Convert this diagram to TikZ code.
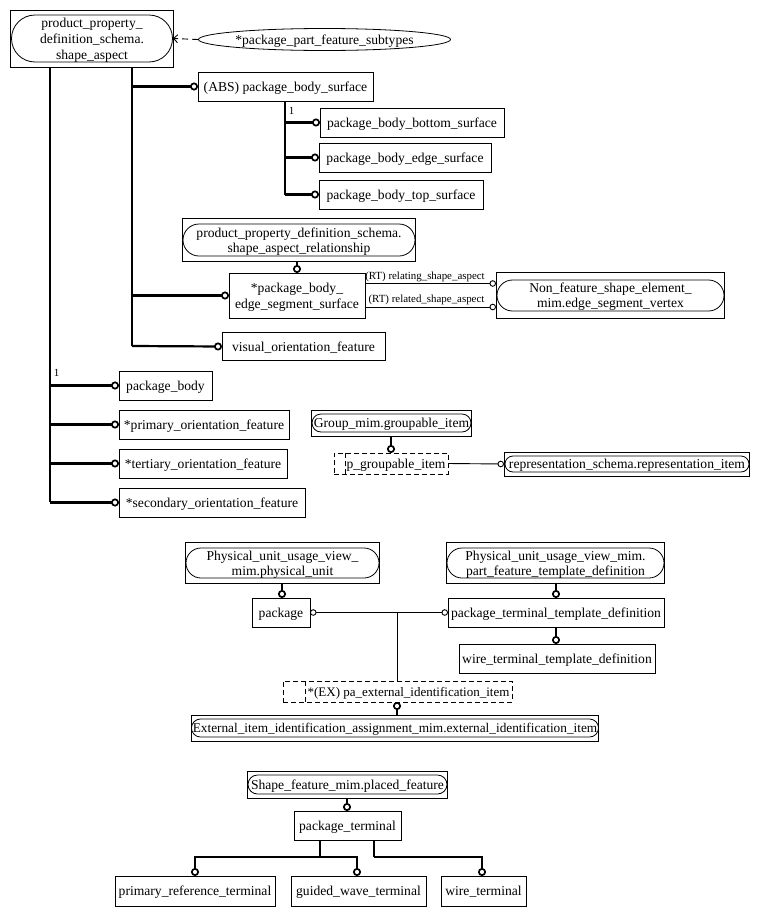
\documentclass[tikz,border=0pt]{standalone}
\usepackage{fontspec}
\setmainfont{Liberation Serif}
\usetikzlibrary{arrows.meta,shapes.misc,shapes.geometric}
\tikzset{
  ent/.style={draw, line width=1pt, inner sep=0pt, outer sep=0pt, align=center, font=\mainfs, text depth=0pt},
  outerbox/.style={draw, line width=1pt, inner sep=0pt, outer sep=0pt},
  stad/.style={rounded rectangle, draw, line width=0.8pt, inner sep=0pt, outer sep=0pt, align=center, font=\mainfs, text depth=0pt},
  dbox/.style={draw, dashed, dash pattern=on 5pt off 3pt, line width=0.9pt, inner sep=0pt, outer sep=0pt},
  sub/.style={line width=2.2pt, -{Circle[open,length=8pt,width=8pt,line width=1.7pt]}},
  trunk/.style={line width=2.2pt},
  rel/.style={line width=0.9pt, -{Circle[open,length=6.5pt,width=6.5pt]}},
  relline/.style={line width=0.9pt},
  lbl/.style={inner sep=0pt, font=\smallfs, text depth=0pt},
  txt/.style={inner sep=0pt, font=\mainfs, text depth=0pt}
}
\newcommand{\mainfs}{\fontsize{13.6}{16}\selectfont}
\newcommand{\smallfs}{\fontsize{10.9}{13}\selectfont}
\begin{document}
\begin{tikzpicture}[x=1pt,y=-1pt]
\useasboundingbox[fill=white] (0,0) rectangle (759,916);

% shape_aspect
\node[outerbox, minimum width=163, minimum height=57] (sa) at (91.5,38.5) {};
\node[stad, minimum width=161, minimum height=47] (saI) at (92,38.5) {product\_property\_\\definition\_schema.\\shape\_aspect};
\node[ellipse, draw, line width=0.8pt, minimum width=247, minimum height=22, inner sep=0pt, font=\mainfs, text depth=0pt] (ppfs) at (324.5,39.5) {*package\_part\_feature\_subtypes};
\draw[line width=0.9pt, dash pattern=on 6pt off 4pt, -{Straight Barb[length=4pt,width=8pt]}] (ppfs.west) -- (sa.east);

\coordinate (v1) at (50,502);
\coordinate (v2) at (132,346);
\draw[trunk] (v1 |- sa.south) -- (v1);
\draw[trunk] (v2 |- sa.south) -- (v2);

% package_body_surface
\node[ent, minimum width=175, minimum height=29] (pbs) at (285.5,86.5) {(ABS) package\_body\_surface};
\draw[sub] (v2 |- pbs) -- (pbs.west);
\coordinate (v3) at (285,194.5);
\draw[trunk] (v3 |- pbs.south) -- (v3);
\node[lbl] (one1) at (291.5,111) {1};
\node[ent, minimum width=184, minimum height=29] (pbbs) at (412,122.5) {package\_body\_bottom\_surface};
\node[ent, minimum width=172, minimum height=29] (pbes) at (405,157.5) {package\_body\_edge\_surface};
\node[ent, minimum width=164, minimum height=29] (pbts) at (401,194.5) {package\_body\_top\_surface};
\draw[sub] (v3 |- pbbs) -- (pbbs.west);
\draw[sub] (v3 |- pbes) -- (pbes.west);
\draw[sub] (v3) -- (pbts.west);

% shape_aspect_relationship
\node[outerbox, minimum width=233, minimum height=43] (sar) at (298.5,239.5) {};
\node[stad, minimum width=232, minimum height=32, font=\fontsize{13.6}{15}\selectfont] (sarI) at (299,240) {product\_property\_definition\_schema.\\shape\_aspect\_relationship};
\node[ent, minimum width=136, minimum height=45] (pbess) at (297,295.5) {*package\_body\_\\edge\_segment\_surface};
\draw[sub] (sar.south -| pbess.north) -- (pbess.north);
\draw[sub] (v2 |- pbess) -- (pbess.west);

\node[outerbox, minimum width=228, minimum height=46] (nfse) at (610,295) {};
\node[stad, minimum width=227, minimum height=31, font=\fontsize{13.6}{15}\selectfont] (nfseI) at (610.5,295.5) {Non\_feature\_shape\_element\_\\mim.edge\_segment\_vertex};
\draw[rel] ([yshift=12pt]pbess.east) -- ([yshift=11.5pt]nfse.west);
\draw[rel] ([yshift=-11.5pt]pbess.east) -- ([yshift=-12pt]nfse.west);
\node[lbl] (rt1) at (425,275.5) {(RT) relating\_shape\_aspect};
\node[lbl] (rt2) at (426.5,299) {(RT) related\_shape\_aspect};

\node[ent, minimum width=163, minimum height=28] (vof) at (303.5,346.5) {visual\_orientation\_feature};
\draw[sub] (v2) -- (vof.west);

% left column
\node[lbl] (one2) at (56.5,373) {1};
\node[ent, minimum width=93, minimum height=29] (pb) at (165.5,385.5) {package\_body};
\node[ent, minimum width=170, minimum height=29] (pof) at (204,424.5) {*primary\_orientation\_feature};
\node[ent, minimum width=168, minimum height=29] (tof) at (203,463.5) {*tertiary\_orientation\_feature};
\node[ent, minimum width=186, minimum height=29] (sof) at (212,502.5) {*secondary\_orientation\_feature};
\draw[sub] (v1 |- pb) -- (pb.west);
\draw[sub] (v1 |- pof) -- (pof.west);
\draw[sub] (v1 |- tof) -- (tof.west);
\draw[sub] (v1 |- sof) -- (sof.west);

% groupable
\node[outerbox, minimum width=160, minimum height=26] (gmgi) at (391,423) {};
\node[stad, minimum width=159, minimum height=18] (gmgiI) at (391.5,423) {Group\_mim.groupable\_item};
\node[dbox, minimum width=114, minimum height=21] (pgi) at (391,463.5) {};
\draw[dbox] ([xshift=11pt]pgi.north west) -- ([xshift=11pt]pgi.south west);
\node[txt] (pgiT) at (396,464) {p\_groupable\_item};
\draw[sub] (gmgi.south) -- (pgi.north);
\node[outerbox, minimum width=245, minimum height=24] (rsri) at (626.5,464) {};
\node[stad, minimum width=244, minimum height=16] (rsriI) at (627,464) {representation\_schema.representation\_item};
\draw[rel] (pgi.east) -- (rsri.west);

% physical unit
\node[outerbox, minimum width=194, minimum height=41] (puvpu) at (282,562.5) {};
\node[stad, minimum width=193, minimum height=30, font=\fontsize{13.6}{15}\selectfont] (puvpuI) at (282.5,563) {Physical\_unit\_usage\_view\_\\mim.physical\_unit};
\node[ent, minimum width=58, minimum height=29] (pkg) at (281,612.5) {package};
\draw[sub] (puvpu.south) -- (puvpu.south |- pkg.north);

\node[outerbox, minimum width=218, minimum height=41] (puvpf) at (555,562.5) {};
\node[stad, minimum width=217, minimum height=30, font=\fontsize{13.6}{15}\selectfont] (puvpfI) at (555.5,563) {Physical\_unit\_usage\_view\_mim.\\part\_feature\_template\_definition};
\node[ent, minimum width=216, minimum height=29] (pttd) at (556,612.5) {package\_terminal\_template\_definition};
\node[ent, minimum width=196, minimum height=29] (wttd) at (557,658.5) {wire\_terminal\_template\_definition};
\draw[sub] (puvpf.south -| pttd.north) -- (pttd.north);
\draw[sub] (pttd.south) -- (pttd.south |- wttd.north);

\coordinate (j) at (397,612.5);
\draw[rel] (j) -- (pkg.east);
\draw[rel] (j) -- (pttd.west);

\node[dbox, minimum width=229, minimum height=21] (pa) at (397.5,691.5) {};
\draw[dbox] ([xshift=22pt]pa.north west) -- ([xshift=22pt]pa.south west);
\node[txt, font=\fontsize{13}{15}\selectfont] (paT) at (408.5,691.5) {*(EX) pa\_external\_identification\_item};
\draw[relline] (j) -- (j |- pa.north);
\node[outerbox, minimum width=407, minimum height=26] (eiia) at (394.5,728) {};
\node[stad, minimum width=406, minimum height=18, font=\fontsize{13.3}{15}\selectfont] (eiiaI) at (395,728) {External\_item\_identification\_assignment\_mim.external\_identification\_item};
\draw[sub] (j |- eiia.north) -- (j |- pa.south);

% placed feature
\node[outerbox, minimum width=200, minimum height=27] (sfpf) at (347,784.5) {};
\node[stad, minimum width=199, minimum height=19] (sfpfI) at (347.5,784.5) {Shape\_feature\_mim.placed\_feature};
\node[ent, minimum width=107, minimum height=29] (pt) at (347.5,825.5) {package\_terminal};
\draw[sub] (sfpf.south) -- (sfpf.south |- pt.north);
\node[ent, minimum width=160, minimum height=30] (prt) at (195,891) {primary\_reference\_terminal};
\node[ent, minimum width=135, minimum height=30] (gwt) at (358.5,891) {guided\_wave\_terminal};
\node[ent, minimum width=85, minimum height=30] (wt) at (483.5,891) {wire\_terminal};
\coordinate (b1) at (320,857);
\coordinate (b2) at (374,857);
\draw[trunk] (b1 |- pt.south) -- (b1);
\draw[trunk] (b2 |- pt.south) -- (b2);
\draw[sub] (b1) -| (prt.north);
\draw[sub] (b1) -| ([xshift=-1.5pt]gwt.north);
\draw[sub] (b2) -| ([xshift=-1.5pt]wt.north);
\end{tikzpicture}
\end{document}
